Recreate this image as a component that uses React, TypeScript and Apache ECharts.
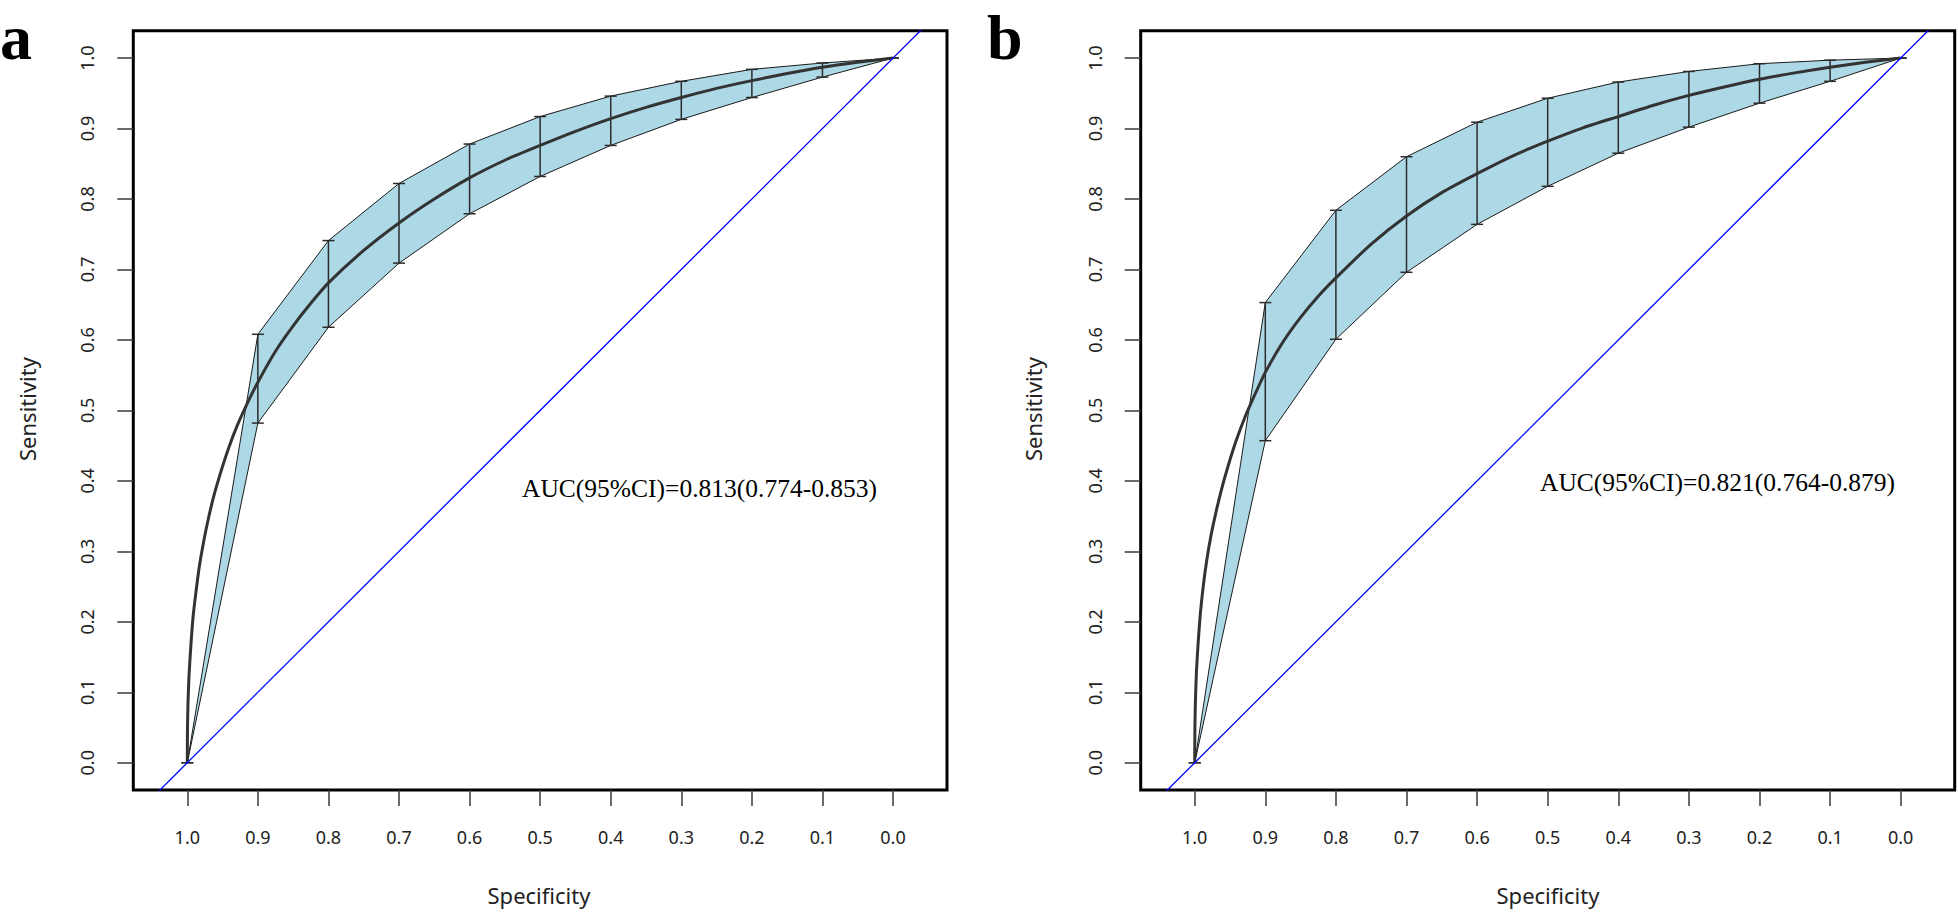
import React, { useEffect, useRef } from "react";
import * as echarts from "echarts";

// ---- tick labels ----
const tickValues = [0, 0.1, 0.2, 0.3, 0.4, 0.5, 0.6, 0.7, 0.8, 0.9, 1.0];
const tickLabels = ["0.0", "0.1", "0.2", "0.3", "0.4", "0.5", "0.6", "0.7", "0.8", "0.9", "1.0"];

// ---- CI error bars (specificity positions) ----
const ciSpecificity = [1.0, 0.9, 0.8, 0.7, 0.6, 0.5, 0.4, 0.3, 0.2, 0.1, 0.0];
const ciUpperA = [0, 0.608, 0.741, 0.822, 0.878, 0.917, 0.946, 0.967, 0.984, 0.993, 1.0];
const ciLowerA = [0, 0.482, 0.618, 0.709, 0.779, 0.832, 0.876, 0.913, 0.944, 0.973, 1.0];
const ciUpperB = [0, 0.653, 0.784, 0.86, 0.909, 0.943, 0.966, 0.981, 0.992, 0.997, 1.0];
const ciLowerB = [0, 0.457, 0.601, 0.696, 0.764, 0.818, 0.865, 0.902, 0.936, 0.967, 1.0];

// ---- smoothed ROC curves (specificity, sensitivity) ----
const curveSpecA = [1.0, 0.9997, 0.999, 0.9975, 0.995, 0.992, 0.988, 0.983, 0.977, 0.97, 0.962, 0.953, 0.942, 0.929, 0.915, 0.9, 0.875, 0.85, 0.825, 0.8, 0.75, 0.7, 0.65, 0.6, 0.55, 0.5, 0.45, 0.4, 0.35, 0.3, 0.25, 0.2, 0.15, 0.1, 0.05, 0.0];
const curveSensA = [0, 0.05, 0.085, 0.125, 0.165, 0.205, 0.24, 0.278, 0.313, 0.347, 0.38, 0.411, 0.445, 0.479, 0.51, 0.54, 0.584, 0.62, 0.652, 0.681, 0.727, 0.766, 0.8, 0.83, 0.855, 0.876, 0.896, 0.914, 0.93, 0.944, 0.957, 0.968, 0.978, 0.987, 0.994, 1.0];
const curveSpecB = [1.0, 0.9997, 0.999, 0.9975, 0.995, 0.992, 0.988, 0.983, 0.977, 0.97, 0.962, 0.953, 0.942, 0.929, 0.915, 0.9, 0.875, 0.85, 0.825, 0.8, 0.75, 0.7, 0.65, 0.6, 0.55, 0.5, 0.45, 0.4, 0.35, 0.3, 0.25, 0.2, 0.15, 0.1, 0.05, 0.0];
const curveSensB = [0, 0.05, 0.087, 0.13, 0.172, 0.212, 0.25, 0.287, 0.322, 0.355, 0.388, 0.42, 0.455, 0.49, 0.522, 0.554, 0.597, 0.632, 0.662, 0.688, 0.736, 0.776, 0.809, 0.836, 0.861, 0.882, 0.901, 0.917, 0.933, 0.947, 0.959, 0.97, 0.979, 0.987, 0.994, 1.0];

// ---- chance diagonal ----
const diagonalSpec = [1.2, -0.2];
const diagonalSens = [-0.2, 1.2];

// ---- texts ----
const panelLetters = ["a", "b"];
const aucTexts = ["AUC(95%CI)=0.813(0.774-0.853)", "AUC(95%CI)=0.821(0.764-0.879)"];
const xTitle = "Specificity";
const yTitle = "Sensitivity";

const TICK_FONT = '"Noto Sans", "Open Sans", sans-serif';

function makeAxes(gi: number) {
  const fmt = (v: number) => {
    const idx = tickValues.findIndex((t) => Math.abs(t - v) < 1e-6);
    return idx >= 0 ? tickLabels[idx] : "";
  };
  const xAxis = {
    gridIndex: gi,
    type: "value",
    inverse: true,
    position: "bottom",
    min: -0.0765,
    max: 1.0765,
    axisLine: { show: false, onZero: false },
    splitLine: { show: false },
    axisTick: {
      show: true,
      length: 16,
      customValues: tickValues,
      lineStyle: { color: "#3a3a3a", width: 1.5 },
    },
    axisLabel: {
      show: true,
      customValues: tickValues,
      formatter: fmt,
      margin: 38,
      fontSize: 18,
      fontFamily: TICK_FONT,
      color: "#222",
    },
  };
  const yAxis = {
    gridIndex: gi,
    type: "value",
    position: "left",
    min: -0.0387,
    max: 1.0387,
    axisLine: { show: false, onZero: false },
    splitLine: { show: false },
    axisTick: {
      show: true,
      length: 16,
      customValues: tickValues,
      lineStyle: { color: "#3a3a3a", width: 1.5 },
    },
    axisLabel: {
      show: true,
      customValues: tickValues,
      formatter: fmt,
      rotate: 90,
      margin: 37,
      fontSize: 18,
      fontFamily: TICK_FONT,
      color: "#222",
    },
  };
  return { xAxis, yAxis };
}

function bandSeries(gi: number, upper: number[], lower: number[]) {
  return {
    type: "custom",
    xAxisIndex: gi,
    yAxisIndex: gi,
    silent: true,
    z: 1,
    data: ciSpecificity.map((s, i) => [s, lower[i], upper[i]]),
    encode: { x: 0, y: [1, 2] },
    renderItem: (params: any, api: any) => {
      if (params.dataIndex !== 0) return { type: "group", children: [] };
      const pts: number[][] = [];
      for (let i = 0; i < ciSpecificity.length; i++) pts.push(api.coord([ciSpecificity[i], upper[i]]));
      for (let i = ciSpecificity.length - 1; i >= 0; i--) pts.push(api.coord([ciSpecificity[i], lower[i]]));
      return {
        type: "polygon",
        shape: { points: pts },
        style: { fill: "#ADD8E6", stroke: "#1a1a1a", lineWidth: 1 },
      };
    },
  };
}

function errorBarSeries(gi: number, upper: number[], lower: number[]) {
  return {
    type: "custom",
    xAxisIndex: gi,
    yAxisIndex: gi,
    silent: true,
    z: 2,
    data: ciSpecificity.map((s, i) => [s, lower[i], upper[i]]),
    encode: { x: 0, y: [1, 2] },
    renderItem: (params: any, api: any) => {
      const x = api.value(0);
      const pLo = api.coord([x, api.value(1)]);
      const pHi = api.coord([x, api.value(2)]);
      const hw = 6;
      const st = { stroke: "#2b2b2b", lineWidth: 1.5 };
      return {
        type: "group",
        children: [
          { type: "line", shape: { x1: pLo[0], y1: pLo[1], x2: pHi[0], y2: pHi[1] }, style: st },
          { type: "line", shape: { x1: pLo[0] - hw, y1: pLo[1], x2: pLo[0] + hw, y2: pLo[1] }, style: st },
          { type: "line", shape: { x1: pHi[0] - hw, y1: pHi[1], x2: pHi[0] + hw, y2: pHi[1] }, style: st },
        ],
      };
    },
  };
}

function curveSeries(gi: number, spec: number[], sens: number[]) {
  return {
    type: "line",
    xAxisIndex: gi,
    yAxisIndex: gi,
    silent: true,
    z: 3,
    showSymbol: false,
    smooth: 0.2,
    data: spec.map((s, i) => [s, sens[i]]),
    lineStyle: { color: "#333333", width: 3 },
  };
}

function diagonalSeries(gi: number) {
  return {
    type: "line",
    xAxisIndex: gi,
    yAxisIndex: gi,
    silent: true,
    z: 4,
    clip: true,
    showSymbol: false,
    data: diagonalSpec.map((s, i) => [s, diagonalSens[i]]),
    lineStyle: { color: "#0000FF", width: 1.3 },
  };
}

export default function App() {
  const ref = useRef<HTMLDivElement>(null);

  useEffect(() => {
    if (!ref.current) return;
    const chart = echarts.init(ref.current, null, { renderer: "svg" });
    const axA = makeAxes(0);
    const axB = makeAxes(1);
    const gridStyle = { show: true, borderColor: "#000", borderWidth: 3, backgroundColor: "transparent" };
    const letterFont = 'bold 64px "Liberation Serif", serif';
    const option: any = {
      animation: false,
      backgroundColor: "#ffffff",
      grid: [
        { ...gridStyle, left: 133.3, top: 30.8, width: 813.7, height: 759.2 },
        { ...gridStyle, left: 1140.7, top: 30.8, width: 814, height: 759.2 },
      ],
      xAxis: [axA.xAxis, axB.xAxis],
      yAxis: [axA.yAxis, axB.yAxis],
      series: [
        bandSeries(0, ciUpperA, ciLowerA),
        errorBarSeries(0, ciUpperA, ciLowerA),
        curveSeries(0, curveSpecA, curveSensA),
        diagonalSeries(0),
        bandSeries(1, ciUpperB, ciLowerB),
        errorBarSeries(1, ciUpperB, ciLowerB),
        curveSeries(1, curveSpecB, curveSensB),
        diagonalSeries(1),
      ],
      graphic: [
        {
          type: "text", x: 0, y: 37,
          style: { text: panelLetters[0], font: letterFont, fill: "#000", textAlign: "left", textVerticalAlign: "middle" },
        },
        {
          type: "text", x: 987, y: 37,
          style: { text: panelLetters[1], font: letterFont, fill: "#000", textAlign: "left", textVerticalAlign: "middle" },
        },
        {
          type: "text", x: 522, y: 488,
          style: { text: aucTexts[0], font: '25.5px "Liberation Serif", serif', fill: "#000", textAlign: "left", textVerticalAlign: "middle" },
        },
        {
          type: "text", x: 1540, y: 482,
          style: { text: aucTexts[1], font: '25.5px "Liberation Serif", serif', fill: "#000", textAlign: "left", textVerticalAlign: "middle" },
        },
        {
          type: "text", x: 539, y: 894.5,
          style: { text: xTitle, font: '22px "Noto Sans", sans-serif', fill: "#222", textAlign: "center", textVerticalAlign: "middle" },
        },
        {
          type: "text", x: 1548, y: 894.5,
          style: { text: xTitle, font: '22px "Noto Sans", sans-serif', fill: "#222", textAlign: "center", textVerticalAlign: "middle" },
        },
        {
          type: "text", x: 27, y: 409, rotation: Math.PI / 2,
          style: { text: yTitle, font: '22px "Noto Sans", sans-serif', fill: "#222", textAlign: "center", textVerticalAlign: "middle" },
        },
        {
          type: "text", x: 1033, y: 409, rotation: Math.PI / 2,
          style: { text: yTitle, font: '22px "Noto Sans", sans-serif', fill: "#222", textAlign: "center", textVerticalAlign: "middle" },
        },
      ],
    };
    chart.setOption(option);
    return () => chart.dispose();
  }, []);

  return (
    <div
      ref={ref}
      style={{ position: "fixed", left: 0, top: 0, width: "1958px", height: "914px", background: "#fff" }}
    />
  );
}
